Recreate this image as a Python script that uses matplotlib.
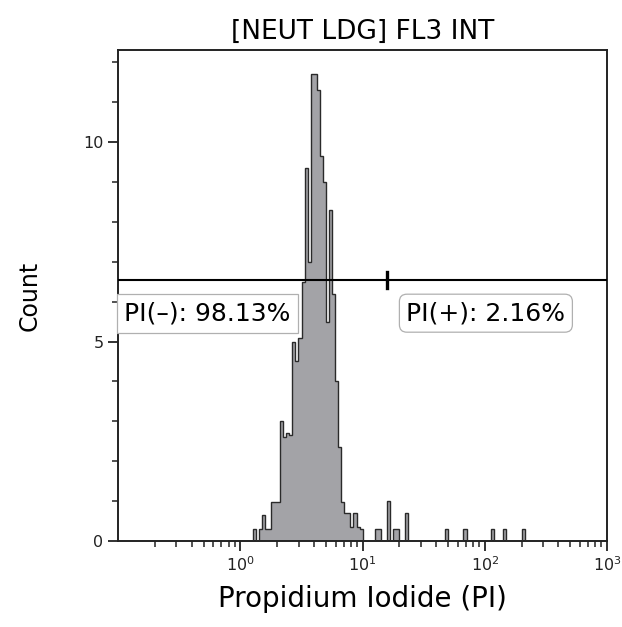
"""
Flow-cytometry PI histogram ([NEUT LDG] FL3 INT) with a single PI gate.
"""

import numpy as np
import matplotlib
matplotlib.use("Agg")
import matplotlib.pyplot as plt
from matplotlib.ticker import LogLocator, MultipleLocator, FixedLocator

plt.rcParams["font.family"] = ["DejaVu Sans"]

# ── Data ──────────────────────────────────────────────────────────────────────
# 160 log-spaced channels between 10^-1 and 10^3; only non-empty ones listed
n_channels = 160
pi_range = (0.1, 1000.0)
channel = [44, 46, 47, 48, 49, 50, 51, 52, 53, 54, 55, 56, 57, 58, 59, 60,
           61, 62, 63, 64, 65, 66, 67, 68, 69, 70, 71, 72, 73, 74, 75, 76,
           77, 78, 79, 84, 85, 88, 90, 91, 94, 107, 113, 122, 126, 132]
counts = [0.3, 0.3, 0.65, 0.3, 0.3, 0.97, 0.97, 0.97, 3.0, 2.6, 2.7, 2.65,
          5.0, 4.5, 5.1, 6.5, 9.35, 7.0, 11.7, 11.7, 11.3, 9.65, 9.0, 5.5,
          8.3, 6.2, 4.0, 2.35, 0.97, 0.7, 0.7, 0.35, 0.7, 0.35, 0.3,
          0.3, 0.3, 1.0, 0.3, 0.3, 0.7, 0.3, 0.3, 0.3, 0.3, 0.3]

gate_level = 6.55          # count level where the gate bar is drawn
gate_split = 15.8          # PI(-) / PI(+) boundary
pct_neg = 98.13
pct_pos = 2.16

title = "[NEUT LDG] FL3 INT"
xlabel = "Propidium Iodide (PI)"
ylabel = "Count"

# ── Figure ────────────────────────────────────────────────────────────────────
edges = np.logspace(np.log10(pi_range[0]), np.log10(pi_range[1]), n_channels + 1)
hist = np.zeros(n_channels)
hist[channel] = counts

fig = plt.figure(figsize=(6.22, 6.27), dpi=100)
ax = fig.add_axes([0.190, 0.137, 0.786, 0.783])

ax.stairs(hist, edges, fill=True, color="#a3a3a7", zorder=2)
ax.stairs(hist, edges, color="#2a2a2a", linewidth=1.0, zorder=3)

ax.set_xscale("log")
ax.set_xlim(*pi_range)
ax.set_ylim(0, 12.3)

# gate bar + split marker
ax.axhline(gate_level, color="black", linewidth=1.5, zorder=4)
ax.plot([gate_split, gate_split], [gate_level - 0.2, gate_level + 0.18],
        color="black", linewidth=2.4, zorder=4)

# gate labels
ax.text(0.012, gate_level - 0.84, f"PI(–): {pct_neg:.2f}%", fontsize=18,
        ha="left", va="center", zorder=5, transform=ax.get_yaxis_transform(),
        bbox=dict(boxstyle="square,pad=0.3", fc="white", ec="#b0b0b0", lw=0.9))
ax.text(102, gate_level - 0.84, f"PI(+): {pct_pos:.2f}%", fontsize=18,
        ha="center", va="center", zorder=5,
        bbox=dict(boxstyle="round,pad=0.28,rounding_size=0.3", fc="white",
                  ec="#b0b0b0", lw=0.9))

# ticks
ax.xaxis.set_major_locator(FixedLocator([1, 10, 100, 1000]))
ax.xaxis.set_minor_locator(LogLocator(base=10, subs=np.arange(2, 10), numticks=20))
ax.xaxis.set_major_formatter(matplotlib.ticker.LogFormatterMathtext())
ax.yaxis.set_major_locator(MultipleLocator(5))
ax.yaxis.set_minor_locator(MultipleLocator(1))
ax.tick_params(which="major", length=7, width=1.3, labelsize=11.5,
               direction="out", colors="#222222")
ax.tick_params(which="minor", length=4, width=1.1, direction="out",
               colors="#222222")

for s in ax.spines.values():
    s.set_linewidth(1.4)
    s.set_color("#222222")

ax.set_title(title, fontsize=19, pad=8)
ax.set_xlabel(xlabel, fontsize=20, labelpad=8)
ax.set_ylabel(ylabel, fontsize=17, labelpad=30)

fig.savefig("out.png", dpi=100)
